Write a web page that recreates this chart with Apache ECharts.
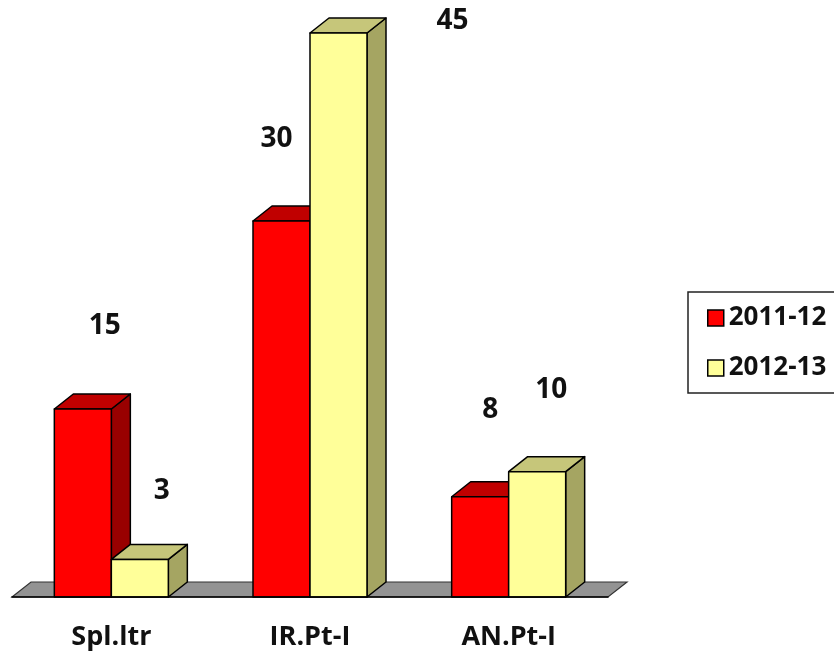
<!DOCTYPE html>
<html>
<head>
<meta charset="utf-8">
<script src="https://cdn.jsdelivr.net/npm/echarts@6/dist/echarts.min.js"></script>
<style>
  html, body { margin: 0; padding: 0; background: #fff; }
  #chart { width: 834px; height: 653px; }
</style>
</head>
<body>
<div id="chart"></div>
<script>
// chart data
const categories = ["Spl.ltr", "IR.Pt-I", "AN.Pt-I"];
const years = ["2011-12", "2012-13"];
const values2011 = [15, 30, 8];
const values2012 = [3, 45, 10];

// 3d look
const BAR_W = 57;
const DX = 19;
const DY = 15;
const FONT = "'Open Sans', 'Noto Sans', sans-serif";

const palette = [
  { front: "#FF0000", top: "#C00000", side: "#990000" },
  { front: "#FFFF99", top: "#C6C67A", side: "#A5A562" },
];

// where the value labels sit, relative to the front top of each bar
const labelShift = [
  [[22, -83], [-5, -82], [10, -87]],
  [[22, -68], [114, -12], [14, -82]],
];

const edge = { stroke: "#000", lineWidth: 1.5, lineJoin: "round" };

function barRenderer(seriesIdx) {
  const faces = palette[seriesIdx];
  return function (params, api) {
    const i = api.value(0);
    const v = api.value(1);
    const base = api.coord([i, 0]);
    const top = api.coord([i, v]);
    const x0 = seriesIdx === 0 ? base[0] - BAR_W : base[0];
    const x1 = x0 + BAR_W;
    const yt = top[1];
    const yb = base[1];
    const shift = labelShift[seriesIdx][i];
    return {
      type: "group",
      children: [
        {
          type: "polygon",
          shape: { points: [[x1, yt], [x1 + DX, yt - DY], [x1 + DX, yb - DY], [x1, yb]] },
          style: Object.assign({ fill: faces.side }, edge),
        },
        {
          type: "polygon",
          shape: { points: [[x0, yt], [x0 + DX, yt - DY], [x1 + DX, yt - DY], [x1, yt]] },
          style: Object.assign({ fill: faces.top }, edge),
        },
        {
          type: "rect",
          shape: { x: x0, y: yt, width: BAR_W, height: yb - yt },
          style: Object.assign({ fill: faces.front }, edge),
        },
        {
          type: "text",
          x: (x0 + x1) / 2 + shift[0],
          y: yt + shift[1],
          style: {
            text: String(v),
            fill: "#111",
            font: "bold 28px " + FONT,
            align: "center",
            verticalAlign: "middle",
          },
        },
      ],
    };
  };
}

// gray floor under the bars
function floorRenderer(params) {
  const cs = params.coordSys;
  const x = cs.x;
  const w = cs.width;
  const yb = cs.y + cs.height;
  return {
    type: "polygon",
    shape: { points: [[x, yb], [x + DX, yb - DY], [x + w + DX, yb - DY], [x + w, yb]] },
    style: { fill: "#939393", stroke: "#333", lineWidth: 1.2 },
  };
}

const chart = echarts.init(document.getElementById("chart"));

chart.setOption({
  animation: false,
  grid: { left: 12, right: 226, top: 33, bottom: 56, containLabel: false, outerBoundsMode: "none" },
  legend: {
    orient: "vertical",
    left: 688,
    top: 292,
    padding: [13, 30, 12, 19],
    itemGap: 24,
    itemWidth: 16,
    itemHeight: 16,
    borderColor: "#222",
    borderWidth: 1.5,
    icon: "rect",
    textStyle: { fontFamily: FONT, fontWeight: "bold", fontSize: 26, color: "#111" },
    data: years.map((name, k) => ({
      name: name,
      itemStyle: { color: palette[k].front, borderColor: "#000", borderWidth: 1.5 },
    })),
  },
  xAxis: {
    type: "category",
    data: categories,
    axisLine: { lineStyle: { color: "#000", width: 1.5 } },
    axisTick: { length: 9, lineStyle: { color: "#000", width: 1.2 } },
    axisLabel: { color: "#111", fontFamily: FONT, fontWeight: "bold", fontSize: 27, margin: 27 },
    z: 5,
  },
  yAxis: { type: "value", min: 0, max: 45, show: false },
  series: [
    {
      type: "custom",
      name: "floor",
      silent: true,
      z: 1,
      renderItem: floorRenderer,
      data: [[0, 0]],
    },
    {
      type: "custom",
      name: years[0],
      z: 3,
      itemStyle: { color: palette[0].front },
      renderItem: barRenderer(0),
      encode: { x: 0, y: 1 },
      data: values2011.map((v, i) => [i, v]),
    },
    {
      type: "custom",
      name: years[1],
      z: 4,
      itemStyle: { color: palette[1].front },
      renderItem: barRenderer(1),
      encode: { x: 0, y: 1 },
      data: values2012.map((v, i) => [i, v]),
    },
  ],
});
</script>
</body>
</html>
